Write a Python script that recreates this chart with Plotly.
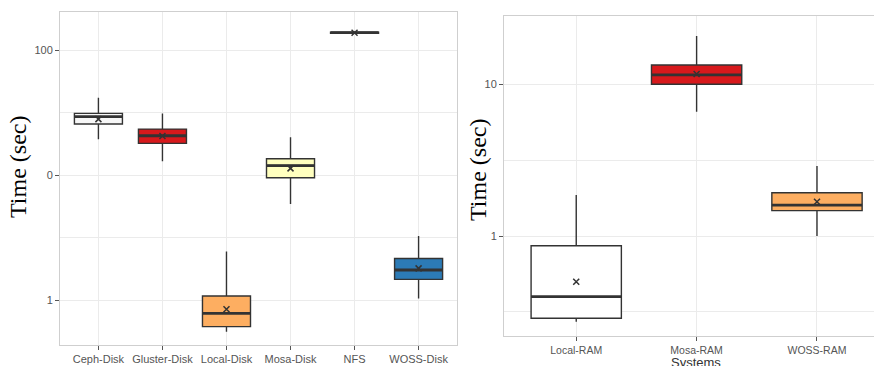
import plotly.graph_objects as go

# ---- data: left panel (disk systems) ----
left_categories = ["Ceph-Disk", "Gluster-Disk", "Local-Disk", "Mosa-Disk", "NFS", "WOSS-Disk"]
left_lower = [19.3, 12.9, 0.558, 5.86, 135.0, 1.03]
left_q1 = [25.6, 17.9, 0.612, 9.5, 135.8, 1.463]
left_median = [29.3, 20.6, 0.782, 11.9, 137.5, 1.738]
left_q3 = [31.1, 23.3, 1.076, 13.5, 139.0, 2.15]
left_upper = [41.5, 31.1, 2.44, 20.0, 140.0, 3.25]
left_mean = [28.0, 20.5, 0.842, 11.3, 137.5, 1.79]
left_colors = ["#F7F7F7", "#D7191C", "#FDAE61", "#FFFFBF", "#F7F7F7", "#2C7BB6"]
left_tickvals = [1, 10, 100]
left_ticktext = ["1", "0", "100"]

# ---- data: right panel (RAM systems) ----
right_categories = ["Local-RAM", "Mosa-RAM", "WOSS-RAM"]
right_lower = [0.272, 6.59, 1.0]
right_q1 = [0.287, 10.0, 1.47]
right_median = [0.398, 11.55, 1.60]
right_q3 = [0.863, 13.4, 1.93]
right_upper = [1.86, 20.8, 2.89]
right_mean = [0.5, 11.7, 1.68]
right_colors = ["#FFFFFF", "#D7191C", "#FDAE61"]
right_tickvals = [1, 10]
right_ticktext = ["1", "10"]

BOXW = 0.75
LINE = "#333333"
PAGE_W, PAGE_H = 882, 366
OFF = 8  # default body margin of the page
W, H = PAGE_W - OFF, PAGE_H - OFF


def px(X):
    return (X - OFF) / W


def py(Y):
    return (PAGE_H - Y) / H


fig = go.Figure()


def add_panel(cats, lo, q1, med, q3, hi, mean, colors, xa, ya):
    for i, c in enumerate(cats):
        fig.add_trace(go.Box(
            x=[i], q1=[q1[i]], median=[med[i]], q3=[q3[i]],
            lowerfence=[lo[i]], upperfence=[hi[i]],
            width=BOXW, fillcolor=colors[i],
            line=dict(color=LINE, width=1.4), whiskerwidth=0,
            boxpoints=False, showlegend=False, xaxis=xa, yaxis=ya,
            hoverinfo="skip"))
    mx, my = [], []
    for i, m in enumerate(med):
        mx += [i - BOXW / 2, i + BOXW / 2, None]
        my += [m, m, None]
    fig.add_trace(go.Scatter(x=mx, y=my, mode="lines",
                             line=dict(color=LINE, width=2.8),
                             showlegend=False, xaxis=xa, yaxis=ya, hoverinfo="skip"))
    fig.add_trace(go.Scatter(x=list(range(len(cats))), y=mean, mode="markers",
                             marker=dict(symbol="x-thin-open", size=6, color=LINE,
                                         line=dict(color=LINE, width=1.5)),
                             showlegend=False, xaxis=xa, yaxis=ya, hoverinfo="skip"))


add_panel(left_categories, left_lower, left_q1, left_median, left_q3, left_upper,
          left_mean, left_colors, "x", "y")
add_panel(right_categories, right_lower, right_q1, right_median, right_q3, right_upper,
          right_mean, right_colors, "x2", "y2")

GRID = "#EBEBEB"
BORDER = "#CFCFCF"
TICKC = "#555555"
tickfont = dict(family="Liberation Sans, Arial, sans-serif", size=11, color=TICKC)

common_x = dict(showgrid=True, gridcolor=GRID, gridwidth=1, zeroline=False,
                showline=True, linecolor=BORDER, linewidth=1,
                ticks="outside", ticklen=4, tickcolor=TICKC, tickwidth=1,
                tickfont=tickfont, tickmode="array")
common_y = dict(type="log", showgrid=True, gridcolor=GRID, gridwidth=1, zeroline=False,
                showline=True, linecolor=BORDER, linewidth=1,
                ticks="outside", ticklen=4, tickcolor=TICKC, tickwidth=1,
                tickfont=tickfont, tickmode="array")

fig.update_layout(
    width=W, height=H,
    margin=dict(l=0, r=0, t=0, b=0),
    paper_bgcolor="white", plot_bgcolor="white",
    xaxis=dict(common_x, domain=[px(60), px(457)], range=[-0.6, 5.6],
               tickvals=list(range(len(left_categories))), ticktext=left_categories,
               mirror=True, anchor="y"),
    yaxis=dict(common_y, domain=[py(345), py(12)], range=[-0.36, 2.304],
               tickvals=left_tickvals, ticktext=left_ticktext, mirror=True, anchor="x",
               minor=dict(tickvals=[10 ** 0.5, 10 ** 1.5], showgrid=True,
                          gridcolor=GRID, ticks="")),
    xaxis2=dict(common_x, domain=[px(504), 1.0], range=[-0.6, 2.54],
                tickvals=list(range(len(right_categories))), ticktext=right_categories,
                tickfont=dict(tickfont, size=10.5),
                mirror=True, anchor="y2"),
    yaxis2=dict(common_y, domain=[py(336), py(16)], range=[-0.659, 1.45],
                tickvals=right_tickvals, ticktext=right_ticktext, mirror=False, anchor="x2",
                minor=dict(tickvals=[10 ** -0.5, 10 ** 0.5], showgrid=True,
                           gridcolor=GRID, ticks="")),
    annotations=[
        dict(text="Time (sec)", x=px(18), y=py(167), xref="paper", yref="paper",
             textangle=-90, showarrow=False, xanchor="center", yanchor="middle",
             font=dict(family="Liberation Serif, Times New Roman, serif", size=24, color="black")),
        dict(text="Time (sec)", x=px(478), y=py(170), xref="paper", yref="paper",
             textangle=-90, showarrow=False, xanchor="center", yanchor="middle",
             font=dict(family="Liberation Serif, Times New Roman, serif", size=24, color="black")),
        dict(text="Systems", x=px(696), y=py(362), xref="paper", yref="paper",
             showarrow=False, xanchor="center", yanchor="middle",
             font=dict(family="Liberation Sans, Arial, sans-serif", size=13, color="#333333")),
    ],
)

fig.write_html("out.html")
